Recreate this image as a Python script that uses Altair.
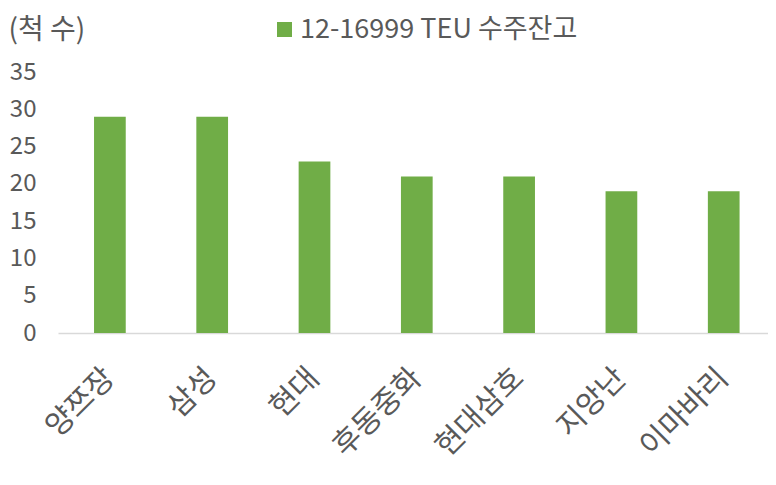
import altair as alt
import pandas as pd

categories = ["양쯔장", "삼성", "현대", "후동중화", "현대삼호", "지앙난", "이마바리"]
values = [29, 29, 23, 21, 21, 19, 19]
series_name = "12-16999 TEU 수주잔고"

df = pd.DataFrame({"cat": categories, "val": values, "series": [series_name] * len(categories)})

FONT = "Noto Sans CJK KR"
GRAY = "#595959"

chart = alt.Chart(df).mark_bar(color="#70AD47").encode(
    x=alt.X("cat:N", sort=categories, title=None,
            scale=alt.Scale(paddingInner=0.69, paddingOuter=0.315, align=0.559),
            axis=alt.Axis(labelAngle=-45, labelAlign="right", labelBaseline="middle",
                          labelFontSize=30, labelColor=GRAY, labelFont=FONT,
                          labelPadding=40, ticks=False, domainColor="#D9D9D9",
                          domainWidth=1.5, labelLimit=0)),
    y=alt.Y("val:Q", scale=alt.Scale(domain=[0, 35]),
            axis=alt.Axis(values=[0, 5, 10, 15, 20, 25, 30, 35], grid=False, domain=False,
                          ticks=False, labelFontSize=24, labelColor=GRAY, labelFont=FONT,
                          labelPadding=22, title="(척 수)", titleAngle=0, titleAlign="left",
                          titleBaseline="middle", titleX=-50, titleY=-42, titleFontSize=28,
                          titleFontWeight="normal", titleColor=GRAY, titleFont=FONT)),
    fill=alt.Fill("series:N", scale=alt.Scale(range=["#70AD47"]),
                  legend=alt.Legend(title=None, orient="none", legendX=213, legendY=-56,
                                    symbolType="square", symbolSize=225, labelFontSize=27,
                                    labelColor=GRAY, labelFont=FONT, padding=0,
                                    symbolStrokeWidth=0, labelOffset=2, labelLimit=0)),
).properties(
    width=710, height=261,
    autosize=alt.AutoSizeParams(type="none"),
    padding={"left": 50, "top": 64, "right": 0, "bottom": 140},
).configure_view(stroke=None)

chart.save("out.html", embed_options={"renderer": "svg", "actions": False})
